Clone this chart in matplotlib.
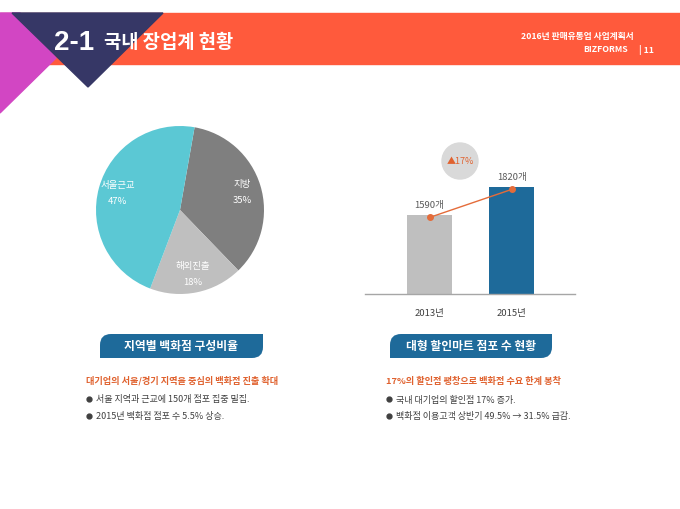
import numpy as np
import matplotlib
matplotlib.use("Agg")
import matplotlib.pyplot as plt
from matplotlib.patches import Polygon, Rectangle, Circle, PathPatch
from matplotlib.path import Path

plt.rcParams['font.family'] = ['Noto Sans CJK KR', 'DejaVu Sans']

# data
pie_labels = ['지방', '해외진출', '서울근교']
pie_shares = [35, 18, 47]
pie_colors = ['#7f7f7f', '#bfbfbf', '#5bc8d4']

years = ['2013년', '2015년']
stores = [1590, 1820]
bar_colors = ['#bfbfbf', '#1e6a9a']
growth = '▲17%'

title_num = '2-1'
title_txt = '국내 장업계 현황'
doc_name = '2016년 판매유통업 사업계획서'
brand = 'BIZFORMS'
page = '| 11'

left_tab = '지역별 백화점 구성비율'
left_head = '대기업의 서울/경기 지역을 중심의 백화점 진출 확대'
left_bullets = ['서울 지역과 근교에 150개 점포 집중 밀집.',
                '2015년 백화점 점포 수 5.5% 상승.']
right_tab = '대형 할인마트 점포 수 현황'
right_head = '17%의 할인점 팽창으로 백화점 수요 한계 봉착'
right_bullets = ['국내 대기업의 할인점 17% 증가.',
                 '백화점 이용고객 상반기 49.5% → 31.5% 급감.']

orange = '#ff5a3c'
navy = '#363766'
magenta = '#d246c3'
tab_blue = '#1e6a9a'
accent = '#e0622f'
txt_gray = '#404040'

fig = plt.figure(figsize=(6.8, 5.1), dpi=100)
fig.patch.set_facecolor('white')

# background axis in pixel coords
bg = fig.add_axes([0, 0, 1, 1])
bg.set_xlim(0, 680)
bg.set_ylim(510, 0)
bg.axis('off')

# header band
bg.add_patch(Rectangle((0, 14), 680, 51, color=orange, zorder=1))
bg.add_patch(Polygon([(0, 14), (20, 14), (56, 59), (0, 114)], closed=True, color=magenta, zorder=2))
bg.add_patch(Polygon([(12, 14), (163, 14), (88, 88)], closed=True, color=navy, zorder=3))
bg.text(54, 43, title_num, color='white', fontsize=20, fontweight='bold',
        va='center', ha='left', family=['Liberation Sans', 'DejaVu Sans'], zorder=4)
bg.text(104, 43, title_txt, color='white', fontsize=13.5, fontweight='bold',
        va='center', ha='left', zorder=4)
bg.text(634, 37, doc_name, color='white', fontsize=6.3, fontweight='bold',
        va='center', ha='right', zorder=4)
bg.text(628, 50, brand, color='white', fontsize=6.3, fontweight='bold',
        va='center', ha='right', zorder=4)
bg.text(639, 50, page, color='white', fontsize=6.3, fontweight='bold',
        va='center', ha='left', zorder=4)


def tab(x0, y0, x1, y1, r, label):
    verts = [(x0, y1), (x0, y0 + r), (x0, y0), (x0 + r, y0), (x1, y0),
             (x1, y1 - r), (x1, y1), (x1 - r, y1), (x0, y1)]
    codes = [Path.MOVETO, Path.LINETO, Path.CURVE3, Path.CURVE3, Path.LINETO,
             Path.LINETO, Path.CURVE3, Path.CURVE3, Path.CLOSEPOLY]
    bg.add_patch(PathPatch(Path(verts, codes), facecolor=tab_blue, edgecolor='none', zorder=2))
    bg.text((x0 + x1) / 2, (y0 + y1) / 2, label, color='white', fontsize=8.5,
            fontweight='bold', ha='center', va='center', zorder=3)


def bullets(x, y, items):
    for i, b in enumerate(items):
        yy = y + i * 17
        bg.plot(x + 3, yy, 'o', color=txt_gray, ms=3.5)
        bg.text(x + 10, yy, b, color=txt_gray, fontsize=6.5, ha='left', va='center')


tab(100, 335, 263, 359, 11, left_tab)
tab(390, 335, 552, 359, 11, right_tab)

bg.text(86, 381, left_head, color=accent, fontsize=6.6, fontweight='bold', ha='left', va='center')
bullets(86, 400, left_bullets)
bg.text(386, 381, right_head, color=accent, fontsize=6.6, fontweight='bold', ha='left', va='center')
bullets(386, 400, right_bullets)

# growth bubble
bg.add_patch(Circle((460, 162), 18, color='#d9d9d9', zorder=2))
bg.text(460, 162, growth, color=accent, fontsize=6.5, ha='center', va='center', zorder=3)

# pie
pax = fig.add_axes([75 / 680, 194 / 510, 210 / 680, 210 / 510])
pie_text = [f'{l}\n{s}%' for l, s in zip(pie_labels, pie_shares)]
wedges, texts = pax.pie(pie_shares, colors=pie_colors, startangle=80, counterclock=False,
                        labels=pie_text, labeldistance=0.77,
                        textprops=dict(color='white', fontsize=6.8, ha='center',
                                       va='center', linespacing=2.0))
pax.set_aspect('equal')

# bars
bax = fig.add_axes([365 / 680, 215 / 510, 210 / 680, 120 / 510])
bax.patch.set_alpha(0)
xpos = np.arange(len(years))
bax.bar(xpos, stores, width=0.55, color=bar_colors, zorder=2)
bax.plot(xpos, [v - 20 for v in stores], color='#e46c3a', lw=1, marker='o', ms=4, zorder=3)
for x, v in zip(xpos, stores):
    bax.annotate(f'{v}개', (x, v), xytext=(0, 7.5), textcoords='offset points',
                 ha='center', va='center', fontsize=6.8, color='#595959')
bax.set_ylim(941, 1927)
bax.set_xlim(-0.787, 1.774)
bax.set_xticks(xpos)
bax.set_xticklabels(years, fontsize=6.8, color='#404040')
bax.tick_params(axis='x', length=0, pad=10)
bax.set_yticks([])
for s in ['top', 'right', 'left']:
    bax.spines[s].set_visible(False)
bax.spines['bottom'].set_color('#a6a6a6')
bax.spines['bottom'].set_linewidth(1)

fig.savefig('out.png', dpi=100)
